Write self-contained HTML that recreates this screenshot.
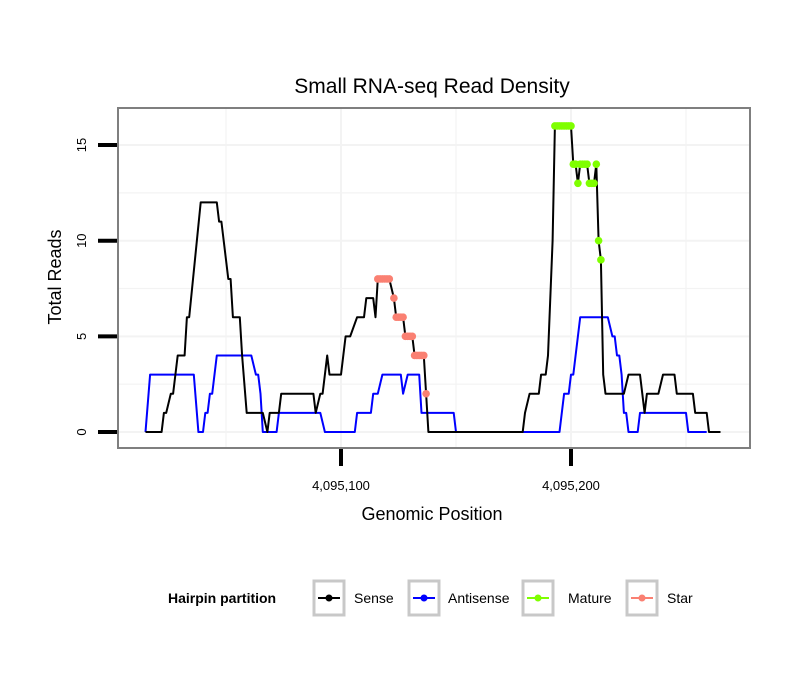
<!DOCTYPE html>
<html><head><meta charset="utf-8"><style>
body{margin:0;background:#fff;}
svg text{font-family:"Liberation Sans",Arial,sans-serif;}
</style></head><body>
<svg id="chart" width="810" height="690" xmlns="http://www.w3.org/2000/svg">
<rect width="810" height="690" fill="#fff"/>
<text x="432" y="93" font-size="21" text-anchor="middle" fill="#000">Small RNA-seq Read Density</text>
<g id="grid"></g>
<g id="series"></g>
<rect x="118" y="108" width="632" height="340" fill="none" stroke="#7f7f7f" stroke-width="2"/>
<g id="axes"></g>
<text x="432" y="520" font-size="18" text-anchor="middle">Genomic Position</text>
<text transform="translate(61,277) rotate(-90)" font-size="18" text-anchor="middle">Total Reads</text>
<g>
<text x="168" y="603" font-size="14" font-weight="bold">Hairpin partition</text>
<g><rect x="314" y="581" width="30" height="34" fill="#fff" stroke="#c8c8c8" stroke-width="3"/><line x1="318" y1="598" x2="340" y2="598" stroke="#000" stroke-width="2"/><circle cx="329" cy="598" r="3.5" fill="#000"/><text x="354" y="603" font-size="14">Sense</text></g>
<g><rect x="409" y="581" width="30" height="34" fill="#fff" stroke="#c8c8c8" stroke-width="3"/><line x1="413" y1="598" x2="435" y2="598" stroke="#00f" stroke-width="2"/><circle cx="424" cy="598" r="3.5" fill="#00f"/><text x="448" y="603" font-size="14">Antisense</text></g>
<g><rect x="523" y="581" width="30" height="34" fill="#fff" stroke="#c8c8c8" stroke-width="3"/><line x1="527" y1="598" x2="549" y2="598" stroke="#7fff00" stroke-width="2"/><circle cx="538" cy="598" r="3.5" fill="#7fff00"/><text x="568" y="603" font-size="14">Mature</text></g>
<g><rect x="627" y="581" width="30" height="34" fill="#fff" stroke="#c8c8c8" stroke-width="3"/><line x1="631" y1="598" x2="653" y2="598" stroke="#fa8072" stroke-width="2"/><circle cx="642" cy="598" r="3.5" fill="#fa8072"/><text x="667" y="603" font-size="14">Star</text></g>
</g>
</svg>
<script>
const base = 4095100;
const sensePos = [-85,-78,-77,-76,-74,-73,-71,-68,-67,-66,-61,-54,-53,-52,-49,-48,-47,-44,-43,-41,-34,-32,-31,-27,-26,-12,-11,-9,-8,-6,-5,0,1,2,4,7,10,11,14,15,16,21,23,24,27,28,31,32,36,37,38,79,80,82,86,87,89,90,92,93,100,101,102,103,104,107,108,110,111,112,113,114,115,123,125,130,132,133,138,140,145,146,153,154,159,160,165];
const senseVal = [0,0,1,1,2,2,4,4,6,6,12,12,11,11,8,8,6,6,4,1,1,0,1,1,2,2,1,2,2,4,3,3,4,5,5,6,6,7,7,6,8,8,7,6,6,5,5,4,4,2,0,0,1,2,2,3,3,4,10,16,16,14,14,13,14,14,13,13,14,10,9,3,2,2,3,3,1,2,2,3,3,2,2,1,1,0,0];
const antiPos = [-85,-83,-64,-62,-60,-59,-58,-57,-56,-54,-39,-37,-36,-35,-34,-28,-27,-9,-7,6,7,13,14,16,18,26,27,29,34,35,49,50,95,97,99,100,101,102,103,104,116,118,119,120,121,122,123,124,125,129,130,150,151,159];
const antiVal = [0,3,3,0,0,1,1,2,2,4,4,3,3,2,0,0,1,1,0,0,1,1,2,2,3,3,2,3,3,1,1,0,0,2,2,3,3,4,5,6,6,5,5,4,4,3,1,1,0,0,1,1,0,0];
const starPos = [16,17,18,19,20,21,23,24,25,26,27,28,29,30,31,32,33,34,35,36,37];
const starVal = [8,8,8,8,8,8,7,6,6,6,6,5,5,5,5,4,4,4,4,4,2];
const maturePos = [93,94,95,96,97,98,99,100,101,102,103,104,105,106,107,108,109,110,111,112,113];
const matureVal = [16,16,16,16,16,16,16,16,14,14,13,14,14,14,14,13,13,13,14,10,9];
const yTicks = [0,5,10,15];
const xTicks = [4095100,4095200];
const xTickLabels = ["4,095,100","4,095,200"];

const NS="http://www.w3.org/2000/svg";
const xS = p => 341 + (p - base) * 2.3;
const xO = o => 341 + o * 2.3;
const yS = v => 432 - v * 19.13;
function mk(tag, attrs, parent){const e=document.createElementNS(NS,tag);for(const k in attrs)e.setAttribute(k,attrs[k]);parent.appendChild(e);return e;}
const grid=document.getElementById('grid'), ser=document.getElementById('series'), axes=document.getElementById('axes');
for(let v=0; v<=15; v+=2.5){const l=mk('line',{x1:118,x2:750,y1:yS(v),y2:yS(v),stroke:'#f3f3f3','stroke-width':v%5===0?2:1.2},grid);

}
for(let o=-100; o<=200; o+=50){const x=xO(o); if(x<118||x>750) continue; const l=mk('line',{x1:x,x2:x,y1:108,y2:448,stroke:'#f3f3f3','stroke-width':o%100===0?2:1.2},grid);

}
function line(pos,val,color,name){const d=pos.map((p,i)=>(i?'L':'M')+xO(p).toFixed(1)+','+yS(val[i]).toFixed(1)).join('');
const e=mk('path',{d:d,fill:'none',stroke:color,'stroke-width':2,'stroke-linejoin':'round'},ser);

}
line(antiPos,antiVal,'#0000ff','antisense-line');
line(sensePos,senseVal,'#000000','sense-line');
function pts(pos,val,color,name){pos.forEach((p,i)=>{const c=mk('circle',{cx:xO(p),cy:yS(val[i]),r:3.8,fill:color},ser);

});}
pts(starPos,starVal,'#fa8072','star-point');
pts(maturePos,matureVal,'#7fff00','mature-point');
yTicks.forEach(v=>{const t=mk('line',{x1:98,x2:117,y1:yS(v),y2:yS(v),stroke:'#000','stroke-width':4},axes);


const tx=mk('text',{transform:`translate(86,${yS(v)}) rotate(-90)`,'font-size':13,'text-anchor':'middle',fill:'#000'},axes);tx.textContent=v;

});
xTicks.forEach((p,i)=>{const t=mk('line',{x1:xS(p),x2:xS(p),y1:449,y2:466,stroke:'#000','stroke-width':4},axes);


const tx=mk('text',{x:xS(p),y:490,'font-size':13,'text-anchor':'middle',fill:'#000'},axes);tx.textContent=xTickLabels[i];

});
</script>
</body></html>
